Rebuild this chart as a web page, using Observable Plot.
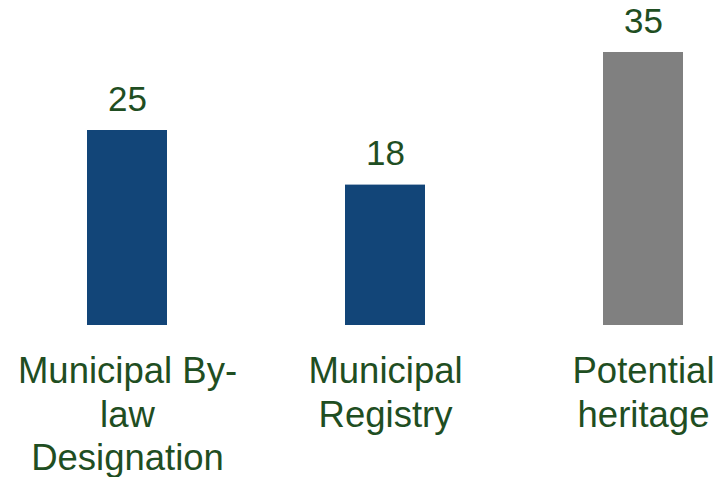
<!DOCTYPE html>
<html>
<head>
<meta charset="utf-8">
<script src="https://cdn.jsdelivr.net/npm/d3@7"></script>
<script src="https://cdn.jsdelivr.net/npm/@observablehq/plot@0.6"></script>
<style>
  html, body { margin: 0; padding: 0; background: #ffffff; }
  #chart { width: 720px; height: 477px; }
</style>
</head>
<body>
<div id="chart"></div>
<script>
const categories = ["Municipal By-law Designation", "Municipal Registry", "Potential heritage"];
const values = [25, 18, 35];
const tickLabels = ["Municipal By-\nlaw\nDesignation", "Municipal\nRegistry", "Potential\nheritage"];
const barColors = ["#124578", "#124578", "#808080"];

const data = categories.map((c, i) => ({cat: c, value: values[i], label: tickLabels[i], color: barColors[i]}));

const textColor = "#1f4e22";
const font = "'Liberation Sans', Arial, Helvetica, sans-serif";

const chart = Plot.plot({
  width: 720,
  height: 477,
  marginTop: 0, marginBottom: 0, marginLeft: 0, marginRight: 0,
  style: {fontFamily: font, background: "#ffffff", overflow: "visible"},
  x: {domain: categories, range: [87, 683], paddingInner: 0.69, paddingOuter: 0, axis: null},
  y: {domain: [0, 35], range: [325, 52], axis: null},
  marks: [
    Plot.barY(data, {x: "cat", y: "value", fill: d => d.color}),
    Plot.text(data, {x: "cat", y: "value", text: d => String(d.value), dy: -20, lineAnchor: "bottom", fontSize: 35, fill: textColor}),
    Plot.text(data, {x: "cat", y: () => 0, text: "label", dy: 27, lineAnchor: "top", lineHeight: 1.19, fontSize: 36.5, fill: textColor})
  ]
});
document.getElementById("chart").appendChild(chart);
</script>
</body>
</html>
